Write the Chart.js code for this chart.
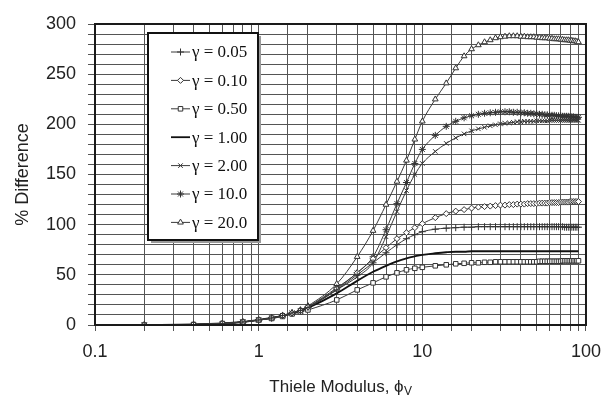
<!DOCTYPE html>
<html>
<head>
<meta charset="utf-8">
<script src="https://cdn.jsdelivr.net/npm/chart.js@4/dist/chart.umd.min.js"></script>
<style>
html,body{margin:0;padding:0;background:#fff;}
#wrap{width:611px;height:396px;position:relative;}
</style>
</head>
<body>
<div id="wrap"><canvas id="c" width="611" height="396"></canvas></div>
<script>
// Thiele modulus values (x)
const xVals = [0.2,0.4,0.6,0.8,1,1.2,1.4,1.6,1.8,2,3,4,5,6,7,8,9,10,
  12,14,16,18,20,22,24,26,28,30,32,34,36,38,40,42,44,46,48,50,
  52,54,56,58,60,62,64,66,68,70,72,74,76,78,80,82,84,86,88,90];

const seriesLabels = ['γ = 0.05','γ = 0.10','γ = 0.50','γ = 1.00','γ = 2.00','γ = 10.0','γ = 20.0'];

const g005 = [0,0.5,1.5,3,5,7,9.5,12,14.5,17.5,35,50,62,72,80,86,90,93,
  95.5,96.5,97,97.5,97.5,98,98,98,98,98,98,98,98,98,98,98,98,98,98,98,
  98,98,98,98,98,98,98,98,98,98,98,97.5,97.5,97.5,97.5,97.5,97.5,97.5,97.5,97.5];
const g010 = [0,0.5,1.5,3,5,7,9.5,12,14.5,18,36,52,66,77,86,92,97,101,
  107,111,113.5,115,116.5,117.5,118,118.5,119,119.5,119.5,120,120,120.5,120.5,120.5,121,121,121,121,
  121.5,121.5,121.5,121.5,122,122,122,122,122,122.5,122.5,122.5,122.5,122.5,123,123,123,123,123,123];
const g050 = [0,0.5,1.5,3,5,6.5,8.5,11,13,15,25,35,42,48,52,55,56.5,57.5,
  59,60,61,61.5,62,62,62.5,62.5,63,63,63,63,63,63,63,63,63,63,63,63,
  63.5,63.5,63.5,63.5,63.5,63.5,63.5,63.5,63.5,63.5,64,64,64,64,64,64,64,64,64,64];
const g100 = [0,0.5,1.5,3,5,7,9,11.5,14,17,31.5,44,53,59,63.5,66.5,68.5,70,
  71.5,72.5,73,73,73.5,73.5,73.5,73.5,73.5,73.5,73.5,73.5,73.5,73.5,73.5,73.5,73.5,73.5,73.5,73.5,
  73.5,73.5,73.5,73.5,73.5,73.5,73.5,73.5,73.5,73.5,73.5,73.5,73.5,73.5,73.5,73.5,73.5,73.5,73.5,73.5];
const g200 = [0,0.5,1.5,3,5,7,9.5,12,14.5,17.5,35,48,62,88,113,134,150,161,
  173,181,186.5,190.5,193.5,195.5,197,198.5,199.5,200.5,201,201.5,202,202.5,202.5,203,203,203,203,203.5,
  203.5,203.5,203.5,203.5,204,204,204,204,204,204,204,204,204,204,204,204,204,204,204,204];
const g1000 = [0,0.5,1.5,3,5,7,9.5,12,14,18,37,52,68,95,121,142,161,175,
  189,198,203,206.5,208.5,210,211,211.5,212,212.5,212.5,212.5,212,212,211.5,211.5,211,211,210.5,210.5,
  210,210,209.5,209.5,209,209,209,208.5,208.5,208.5,208,208,208,208,207.5,207.5,207.5,207,207,207];
const g2000 = [0,0.5,1.5,3,5,7,9.5,12,15,19,41,68,94,120,143,164,185,203,
  225,241,256,268,275,279,282,284,286,287,287.5,288,288,288,287.5,287.5,287,287,287,286.5,
  286.5,286,286,286,285.5,285.5,285,285,285,284.5,284.5,284,284,284,283.5,283.5,283,283,282.5,282];

const yTickStep = 10;
const yLabelEvery = 50;

const seriesValues = [g005,g010,g050,g100,g200,g1000,g2000];
const seriesStyles = [
  {pointStyle:'cross', radius:3.5, fill:'#333', width:1},
  {pointStyle:'rectRot', radius:3, fill:'#fff', width:1},
  {pointStyle:'rect', radius:3.2, fill:'#fff', width:1},
  {pointStyle:false, radius:0, fill:'#111', width:1.8},
  {pointStyle:'crossRot', radius:3.2, fill:'#333', width:1},
  {pointStyle:'star', radius:3.5, fill:'#333', width:1},
  {pointStyle:'triangle', radius:3.3, fill:'#fff', width:1}
];

const datasets = seriesValues.map((vals,i)=>{
  const s = seriesStyles[i];
  return {
    label: seriesLabels[i],
    data: xVals.map((x,j)=>({x:x, y:vals[j]})),
    borderColor: i===3 ? '#111' : '#3a3a3a',
    backgroundColor: s.fill,
    borderWidth: s.width,
    pointStyle: s.pointStyle,
    pointRadius: s.radius,
    pointBorderWidth: 1,
    pointBorderColor: '#333',
    pointBackgroundColor: s.fill,
    tension: 0.3,
    cubicInterpolationMode: 'monotone'
  };
});

const frame = {
  id:'frame',
  afterDraw(chart){
    const ctx = chart.ctx, a = chart.chartArea;
    ctx.save();
    ctx.strokeStyle = '#1a1a1a';
    ctx.lineWidth = 2;
    ctx.strokeRect(a.left, a.top, a.right-a.left, a.bottom-a.top);
    // legend box
    const bx=148, by=33, bw=110, bh=207;
    ctx.fillStyle = '#9a9a9a';
    ctx.fillRect(bx+3, by+3, bw, bh);
    ctx.fillStyle = '#fff';
    ctx.fillRect(bx, by, bw, bh);
    ctx.strokeStyle = '#111';
    ctx.lineWidth = 2;
    ctx.strokeRect(bx, by, bw, bh);
    ctx.font = '17px "Liberation Serif", "Times New Roman", serif';
    ctx.textBaseline = 'middle';
    ctx.textAlign = 'left';
    chart.data.datasets.forEach((d,i)=>{
      const y = 52 + i*28.4;
      ctx.strokeStyle = d.borderColor;
      ctx.lineWidth = d.borderWidth;
      ctx.beginPath(); ctx.moveTo(171,y); ctx.lineTo(190,y); ctx.stroke();
      if (d.pointStyle) {
        ctx.strokeStyle = '#333'; ctx.fillStyle = d.pointBackgroundColor; ctx.lineWidth = 1;
        Chart.helpers.drawPoint(ctx, {pointStyle:d.pointStyle, radius:d.pointRadius, rotation:0, borderWidth:1}, 180.5, y);
      }
      ctx.fillStyle = '#111';
      ctx.fillText(d.label, 192, y+1);
    });
    // x-axis title with subscript
    const main = 'Thiele Modulus, ϕ';
    ctx.font = '17px "Liberation Sans", Arial, sans-serif';
    const w1 = ctx.measureText(main).width;
    ctx.font = '12px "Liberation Sans", Arial, sans-serif';
    const w2 = ctx.measureText('V').width;
    const cx = (a.left + a.right)/2;
    let x0 = cx - (w1+w2)/2;
    ctx.fillStyle = '#222';
    ctx.textBaseline = 'alphabetic';
    ctx.font = '17px "Liberation Sans", Arial, sans-serif';
    ctx.fillText(main, x0, 392);
    ctx.font = '12px "Liberation Sans", Arial, sans-serif';
    ctx.fillText('V', x0 + w1 + 0.5, 395);
    ctx.restore();
  }
};

new Chart(document.getElementById('c'), {
  type: 'line',
  data: { datasets },
  options: {
    responsive: false,
    animation: false,
    layout: { padding: { left: 0, right: 17, top: 24, bottom: 0 } },
    plugins: { legend: { display: false }, tooltip: { enabled: false } },
    scales: {
      x: {
        type: 'logarithmic',
        min: 0.1, max: 100,
        afterFit(s){ s.height = 71; },
        grid: { color: '#555', lineWidth: 1, tickLength: 6, drawTicks: true },
        border: { display: false },
        ticks: {
          autoSkip: false, maxRotation: 0,
          padding: 10,
          color: '#222',
          font: { family: '"Liberation Sans", Arial, sans-serif', size: 18 },
          callback(v){
            const l = Math.log10(v);
            return Math.abs(l - Math.round(l)) < 1e-9 ? String(+v.toPrecision(3)) : '';
          }
        }
      },
      y: {
        min: 0, max: 300,
        afterFit(s){ s.width = 95; },
        grid: { color: '#555', lineWidth: 1, tickLength: 7 },
        border: { display: false },
        title: {
          display: true, text: '% Difference', color: '#222',
          font: { family: '"Liberation Sans", Arial, sans-serif', size: 18 },
          padding: { top: 12, bottom: 0 }
        },
        ticks: {
          stepSize: yTickStep,
          autoSkip: false,
          padding: 12,
          color: '#222',
          font: { family: '"Liberation Sans", Arial, sans-serif', size: 18 },
          callback(v){ return v % yLabelEvery === 0 ? String(v) : ''; }
        }
      }
    }
  },
  plugins: [frame]
});
</script>
</body>
</html>
